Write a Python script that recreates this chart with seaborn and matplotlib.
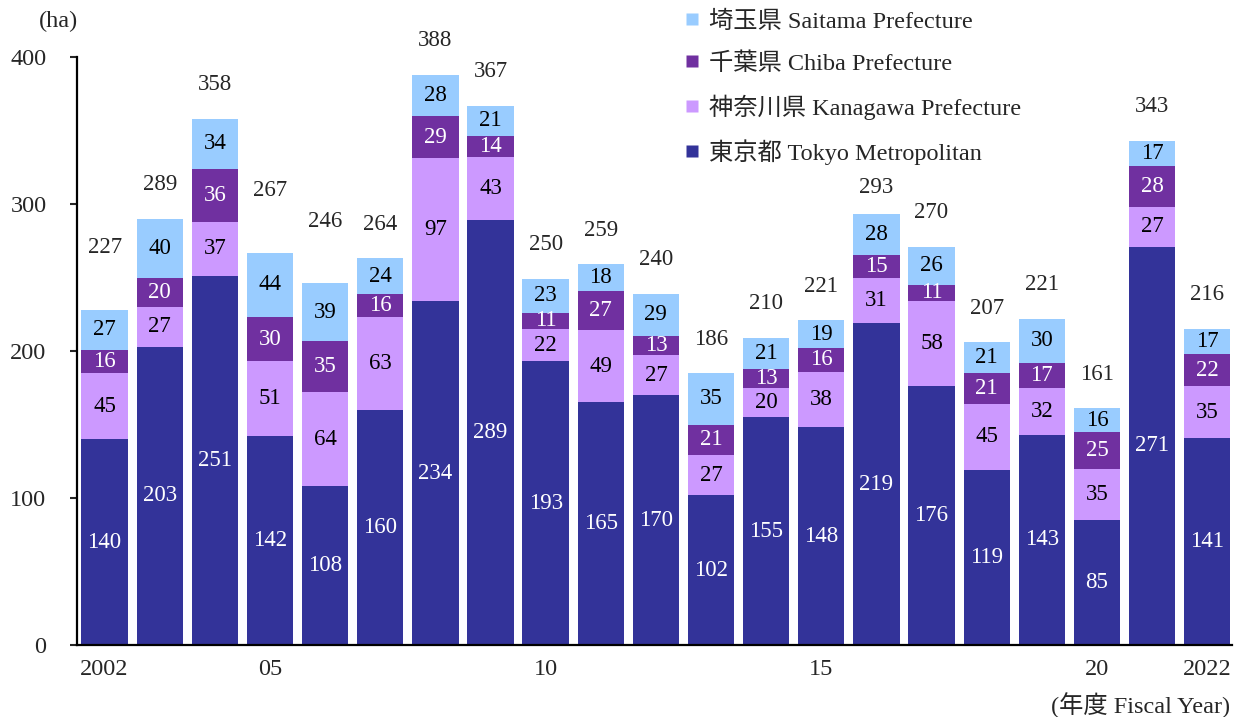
import numpy as np
import pandas as pd
import matplotlib
matplotlib.use('Agg')
import matplotlib.pyplot as plt
import seaborn as sns
from matplotlib.lines import Line2D

# Data (ha) by fiscal year
years = [str(y) for y in range(2002, 2023)]
tokyo = [140, 203, 251, 142, 108, 160, 234, 289, 193, 165, 170, 102, 155, 148, 219, 176, 119, 143, 85, 271, 141]
kanagawa = [45, 27, 37, 51, 64, 63, 97, 43, 22, 49, 27, 27, 20, 38, 31, 58, 45, 32, 35, 27, 35]
chiba = [16, 20, 36, 30, 35, 16, 29, 14, 11, 27, 13, 21, 13, 16, 15, 11, 21, 17, 25, 28, 22]
saitama = [27, 40, 34, 44, 39, 24, 28, 21, 23, 18, 29, 35, 21, 19, 28, 26, 21, 30, 16, 17, 17]
totals = [227, 289, 358, 267, 246, 264, 388, 367, 250, 259, 240, 186, 210, 221, 293, 270, 207, 221, 161, 343, 216]
xtick_labels = ['2002', '', '', '05', '', '', '', '', '10', '', '', '', '', '15', '', '', '', '', '20', '', '2022']

series = [
    ('東京都 Tokyo Metropolitan', tokyo, '#333399', 'white'),
    ('神奈川県 Kanagawa Prefecture', kanagawa, '#CC99FF', 'black'),
    ('千葉県 Chiba Prefecture', chiba, '#7030A0', 'white'),
    ('埼玉県 Saitama Prefecture', saitama, '#99CCFF', 'black'),
]

sns.set_style('white')
plt.rcParams['font.family'] = ['Liberation Serif', 'Noto Sans CJK JP', 'DejaVu Sans']
FS = 17.5      # ticks, legend, notes
FS_LAB = 16.5  # numbers on the bars

fig = plt.figure(figsize=(12.41, 7.17), dpi=100)
ax = fig.add_axes([77 / 1241, 72 / 717, 1155 / 1241, 588 / 717])

# stacked bars: draw cumulative heights from the top layer down
cum = np.cumsum([s[1] for s in series], axis=0)
for k in range(len(series) - 1, -1, -1):
    tmp = pd.DataFrame({'year': years, 'value': cum[k]})
    sns.barplot(data=tmp, x='year', y='value', color=series[k][2], width=0.84,
                saturation=1, linewidth=0, ax=ax, zorder=2)

# segment labels
for k, (name, vals, col, tcol) in enumerate(series):
    base = cum[k] - np.array(vals)
    for i, v in enumerate(vals):
        ax.text(i, base[i] + v / 2, str(v), ha='center', va='center',
                fontsize=FS_LAB, color=tcol, zorder=3)

# totals above bars (a few sit higher in the original)
lift = {0: 62, 3: 62, 4: 62, 14: 27}
for i, t in enumerate(totals):
    ax.annotate(str(t), (i, cum[-1][i]), xytext=(0, lift.get(i, 34) / 1.389),
                textcoords='offset points', ha='center', va='center', fontsize=FS_LAB)

ax.set_xlim(-0.5, 20.45)
ax.set_ylim(0, 400)
ax.set_yticks([0, 100, 200, 300, 400])
ax.set_xticks(range(len(years)))
ax.set_xticklabels(xtick_labels)
ax.set_xlabel('')
ax.set_ylabel('')
ax.tick_params(axis='y', direction='out', length=5, width=1.5, pad=17, labelsize=FS, left=True)
ax.tick_params(axis='x', length=0, pad=10, labelsize=FS)
for s in ['top', 'right']:
    ax.spines[s].set_visible(False)
for s in ['left', 'bottom']:
    ax.spines[s].set_linewidth(1.6)
    ax.spines[s].set_color('black')

fig.text(58 / 1241, 1 - 21 / 717, '(ha)', ha='center', va='center', fontsize=FS)
fig.text(1230 / 1241, 1 - 705 / 717, '(年度 Fiscal Year)', ha='right', va='center', fontsize=FS)

handles = [Line2D([], [], marker='s', linestyle='none', markersize=9,
                  markerfacecolor=s[2], markeredgecolor='none') for s in series[::-1]]
labels = [s[0] for s in series[::-1]]
fig.legend(handles, labels, loc='upper left', bbox_to_anchor=(676 / 1241, 1 - 1 / 717),
           frameon=False, fontsize=FS, handlelength=0.55, handletextpad=0.4,
           labelspacing=0.8, borderaxespad=0)

fig.savefig('out.png', dpi=100)
